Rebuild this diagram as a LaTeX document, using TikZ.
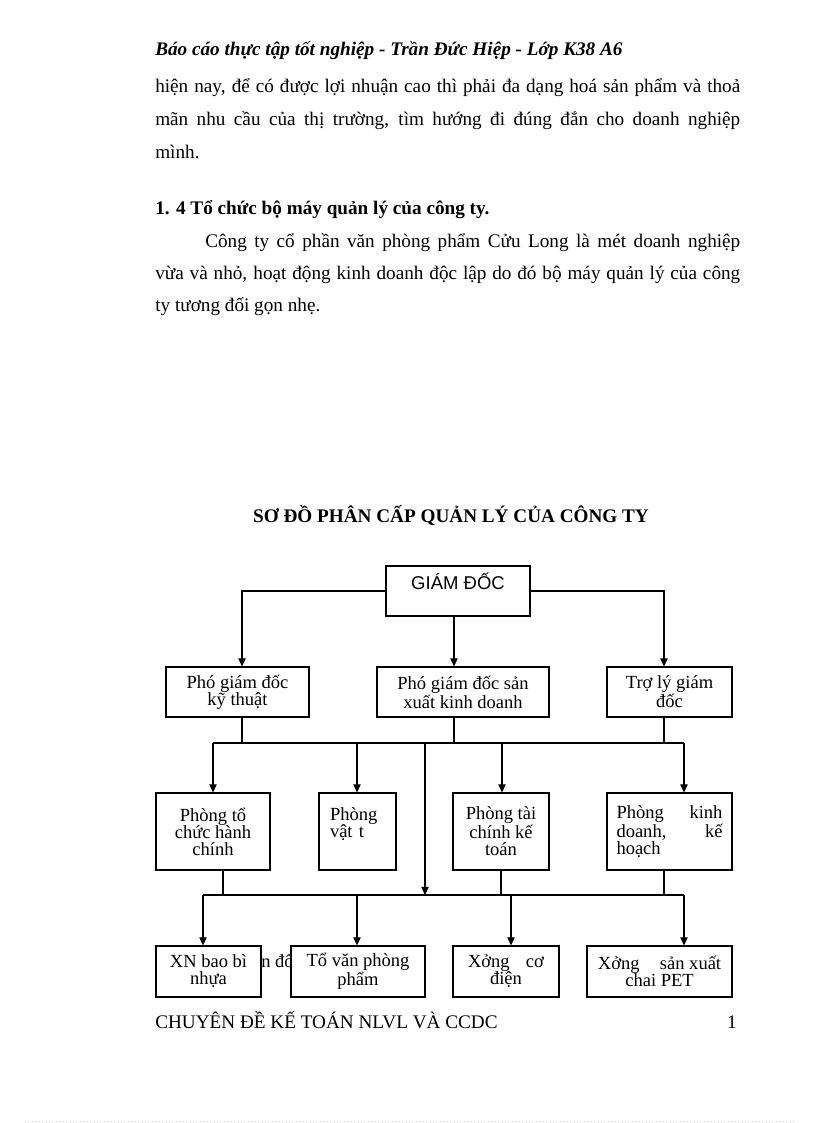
\documentclass[tikz,border=0pt]{standalone}
\usepackage{fontspec}
\setmainfont{Liberation Serif}
\newfontfamily\arialf{Liberation Sans}
\usetikzlibrary{arrows.meta,calc}
\newdimen\upx \upx=0.7292pt
\begin{document}
\begin{tikzpicture}[x=0.7292pt,y=-0.7292pt,
  txt/.style={anchor=base west, inner sep=0pt, font=\fontsize{14}{16}\selectfont},
  bx/.style={draw, fill=white, line width=0.75pt, inner sep=0pt, align=center,
             font=\fontsize{13.5}{12.4}\selectfont},
  con/.style={line width=0.75pt},
  arr/.style={con, -{Triangle[length=6pt,width=5.4pt]}}]
\useasboundingbox (0,0) rectangle (816,1123);
\fill[white] (0,0) rectangle (816,1123);

% ---- page text ----
\node[txt, font=\fontsize{14}{16}\selectfont\bfseries\itshape] (hdr) at (155,56)
  {Báo cáo thực tập tốt nghiệp - Trần Đức Hiệp - Lớp K38 A6};
\node[txt] (l1) at (155,93) {\makebox[585\upx][s]{hiện nay, để có được lợi nhuận cao thì phải đa dạng hoá sản phẩm và thoả}};
\node[txt] (l2) at (155,126) {\makebox[585\upx][s]{mãn nhu cầu của thị trường, tìm hướng đi đúng đắn cho doanh nghiệp}};
\node[txt] (l3) at (155,159) {mình.};
\node[txt, font=\fontsize{14}{16}\selectfont\bfseries] (h1) at (155,215) {1. 4 Tổ chức bộ máy quản lý của công ty.};
\node[txt] (l4) at (205,248) {\makebox[535\upx][s]{Công ty cổ phần văn phòng phẩm Cửu Long là mét doanh nghiệp}};
\node[txt] (l5) at (155,280) {\makebox[585\upx][s]{vừa và nhỏ, hoạt động kinh doanh độc lập do đó bộ máy quản lý của công}};
\node[txt] (l6) at (155,312) {ty tương đối gọn nhẹ.};
\node[anchor=base, inner sep=0pt, font=\fontsize{14}{16}\selectfont\bfseries] (title) at (451,522)
  {SƠ ĐỒ PHÂN CẤP QUẢN LÝ CỦA CÔNG TY};
\node[txt] (ft) at (155,1028) {CHUYÊN ĐỀ KẾ TOÁN NLVL VÀ CCDC};
\node[txt, anchor=base east] (pg) at (737,1028) {1};

% stray text behind the boxes
\node[txt, anchor=base east, font=\fontsize{13.5}{12.4}\selectfont] (stray) at (294,967) {n đổ};

% ---- boxes ----
\node[bx, minimum width=144\upx, minimum height=50\upx, font=\arialf\fontsize{13.5}{14}\selectfont,
      text height=10pt, text depth=12pt] (gd) at (458,591) {GIÁM ĐỐC};

\node[bx, minimum width=143\upx, minimum height=50\upx] (pkt) at (237.5,692) {Phó giám đốc\\kỹ thuật};
\node[bx, minimum width=172\upx, minimum height=50\upx] (psx) at (463,692) {Phó giám đốc sản\\xuất kinh doanh};
\node[bx, minimum width=125\upx, minimum height=50\upx] (tl) at (669.5,692) {Trợ lý giám\\đốc};

\node[bx, minimum width=114\upx, minimum height=77\upx] (ptc) at (213,831.5) {Phòng tổ\\chức hành\\chính};
\node[bx, minimum width=77\upx, minimum height=77\upx, text width=55\upx, align=left] (pvt) at (357.5,831.5) {Phòng\\vật t\\~};
\node[bx, minimum width=96\upx, minimum height=77\upx] (ptk) at (501,831.5) {Phòng tài\\chính kế\\toán};
\node[bx, minimum width=125\upx, minimum height=77\upx, align=left] (pkd) at (669.5,831.5)
  {\makebox[106\upx][l]{Phòng\hfill kinh}\\\makebox[106\upx][l]{doanh,\hfill kế}\\hoạch};

\node[bx, minimum width=105\upx, minimum height=51\upx] (xn) at (208.5,971.5) {XN bao bì\\nhựa};
\node[bx, minimum width=134\upx, minimum height=51\upx] (tvp) at (358,971.5) {Tổ văn phòng\\phẩm};
\node[bx, minimum width=106\upx, minimum height=51\upx] (xcd) at (506,971.5) {\makebox[76\upx][l]{Xởng\hfill cơ}\\điện};
\node[bx, minimum width=145\upx, minimum height=51\upx] (xsx) at (659.5,971.5) {Xởng\hspace{1.1em}sản xuất\\chai PET};

% ---- junctions ----
\coordinate (jKT) at (242,743);
\coordinate (jSX) at (454,743);
\coordinate (jTL) at (664,743);
\coordinate (b1L) at (213,743);
\coordinate (b1R) at (684,743);
\coordinate (b1a) at (357,743);
\coordinate (b1b) at (502,743);
\coordinate (b1c) at (425,743);
\coordinate (b2c) at (425,895);
\coordinate (j2a) at (223,895);
\coordinate (j2b) at (501,895);
\coordinate (j2c) at (664,895);
\coordinate (b2L) at (203,895);
\coordinate (b2R) at (684,895);
\coordinate (b2a) at (357,895);
\coordinate (b2b) at (511,895);

% ---- connectors ----
\draw[arr] (gd.west) -| (pkt.north -| jKT);
\draw[arr] (gd.east) -| (tl.north -| jTL);
\draw[arr] (gd.south -| jSX) -- (psx.north -| jSX);

\draw[con] (pkt.south -| jKT) -- (jKT);
\draw[con] (psx.south -| jSX) -- (jSX);
\draw[con] (tl.south -| jTL) -- (jTL);
\draw[con] (b1L) -- (b1R);
\draw[arr] (b1L) -- (ptc.north -| b1L);
\draw[arr] (b1a) -- (pvt.north -| b1a);
\draw[arr] (b1b) -- (ptk.north -| b1b);
\draw[arr] (b1R) -- (pkd.north -| b1R);
\draw[arr] (b1c) -- (b2c);

\draw[con] (ptc.south -| j2a) -- (j2a);
\draw[con] (ptk.south -| j2b) -- (j2b);
\draw[con] (pkd.south -| j2c) -- (j2c);
\draw[con] (b2L) -- (b2R);
\draw[arr] (b2L) -- (xn.north -| b2L);
\draw[arr] (b2a) -- (tvp.north -| b2a);
\draw[arr] (b2b) -- (xcd.north -| b2b);
\draw[arr] (b2R) -- (xsx.north -| b2R);

% faint dotted rule at the bottom edge
\draw[gray!40, dotted, line width=0.5pt] (25,1121) -- (793,1121);
\end{tikzpicture}
\end{document}
